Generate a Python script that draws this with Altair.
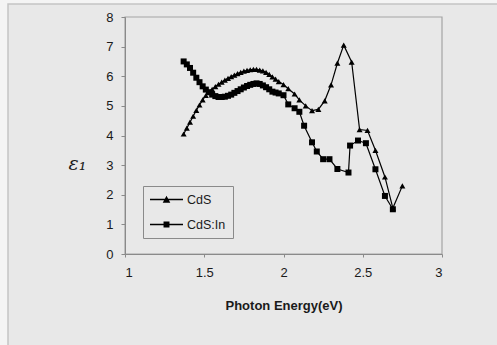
import altair as alt
import pandas as pd

# CdS (triangles)
cds_e = [1.37, 1.39, 1.41, 1.43, 1.45, 1.47, 1.49, 1.51, 1.53, 1.55, 1.57, 1.59, 1.61,
         1.63, 1.65, 1.67, 1.69, 1.71, 1.73, 1.75, 1.77, 1.79, 1.81, 1.83, 1.85, 1.87,
         1.89, 1.91, 1.93, 1.95, 1.97, 2.00, 2.03, 2.07, 2.10, 2.14, 2.18, 2.22, 2.26,
         2.30, 2.34, 2.38, 2.43, 2.48, 2.53, 2.58, 2.64, 2.69, 2.75]
cds_v = [4.05, 4.25, 4.45, 4.65, 4.85, 5.03, 5.20, 5.35, 5.47, 5.56, 5.65, 5.73, 5.80,
         5.87, 5.93, 5.99, 6.04, 6.09, 6.13, 6.17, 6.20, 6.22, 6.23, 6.23, 6.21, 6.18,
         6.13, 6.06, 5.98, 5.90, 5.82, 5.72, 5.58, 5.40, 5.20, 5.00, 4.84, 4.88, 5.17,
         5.71, 6.44, 7.05, 6.48, 4.20, 4.17, 3.50, 2.60, 1.55, 2.30]

# CdS:In (squares)
cdsin_e = [1.37, 1.39, 1.41, 1.43, 1.45, 1.47, 1.49, 1.51, 1.53, 1.55, 1.57, 1.59, 1.61,
           1.63, 1.65, 1.67, 1.69, 1.71, 1.73, 1.75, 1.77, 1.79, 1.81, 1.83, 1.85, 1.87,
           1.89, 1.91, 1.93, 1.95, 1.97, 2.00, 2.03, 2.07, 2.10, 2.13, 2.18, 2.21, 2.25,
           2.29, 2.34, 2.41, 2.42, 2.47, 2.52, 2.58, 2.64, 2.69]
cdsin_v = [6.50, 6.40, 6.28, 6.12, 5.95, 5.80, 5.66, 5.55, 5.46, 5.38, 5.33, 5.30, 5.30,
           5.31, 5.34, 5.38, 5.44, 5.50, 5.56, 5.62, 5.67, 5.71, 5.74, 5.76, 5.74, 5.69,
           5.63, 5.56, 5.48, 5.45, 5.42, 5.36, 5.05, 4.92, 4.80, 4.33, 3.77, 3.46, 3.20,
           3.20, 2.87, 2.75, 3.66, 3.83, 3.74, 2.86, 1.96, 1.51]

series_names = ["CdS", "CdS:In"]
x_ticks = [1, 1.5, 2, 2.5, 3]
y_ticks = [0, 1, 2, 3, 4, 5, 6, 7, 8]

df = pd.concat([
    pd.DataFrame({"E": cds_e, "eps": cds_v, "series": series_names[0]}),
    pd.DataFrame({"E": cdsin_e, "eps": cdsin_v, "series": series_names[1]}),
])

FONT = "Liberation Sans"
BG = "#e8e8e8"
W, H = 317, 237

x_enc = alt.X("E:Q", scale=alt.Scale(domain=[1, 3], nice=False),
              axis=alt.Axis(values=x_ticks, format="", title="Photon Energy(eV)",
                            grid=False, tickSize=3, labelPadding=9, zindex=2,
                            labelOverlap=False,
                            labelFontSize=13, labelFont=FONT, labelColor="#1a1a1a",
                            titleFont=FONT, titleFontSize=13, titleFontWeight="bold",
                            titleColor="#1a1a1a", titleBaseline="middle", titleY=51,
                            domainColor="#8a8a8a", tickColor="#8a8a8a"))
y_enc = alt.Y("eps:Q", scale=alt.Scale(domain=[0, 8], nice=False),
              axis=alt.Axis(values=y_ticks, title="ε₁", grid=False, tickSize=4,
                            labelPadding=8, labelFontSize=13, labelFont=FONT, zindex=2,
                            labelOverlap=False,
                            labelColor="#1a1a1a", titleAngle=0, titleFont="DejaVu Serif",
                            titleFontStyle="italic", titleFontWeight="normal",
                            titleFontSize=19, titleColor="#1a1a1a", titleAlign="center",
                            titleBaseline="middle", titleX=-48, titleY=146,
                            domainColor="#8a8a8a", tickColor="#8a8a8a"))

one = pd.DataFrame({"a": [0]})
bg = alt.Chart(one).mark_rect(
    fill=BG, stroke="#c4c4c4", strokeWidth=1.5
).encode(x=alt.value(-117), x2=alt.value(420), y=alt.value(-13), y2=alt.value(380))

frame = alt.Chart(one).mark_rect(
    fill=None, fillOpacity=0, stroke="#a4a4a4", strokeWidth=1.2
).encode(x=alt.value(0), x2=alt.value(W), y=alt.value(0), y2=alt.value(H))

lines = alt.Chart(df).mark_line(color="black", strokeWidth=1.2).encode(
    x=x_enc, y=y_enc, detail="series:N"
)

points = alt.Chart(df).mark_point(filled=True, color="black", opacity=1, size=36).encode(
    x=x_enc, y=y_enc,
    shape=alt.Shape("series:N",
                    scale=alt.Scale(domain=series_names, range=["triangle-up", "square"]),
                    legend=None),
)

# legend-only layer: symbols are a short (filled) line with a solid marker on it
bar = "M-1,-0.038L1,-0.038L1,0.038L-1,0.038Z"
tri_path = bar + "M-0.23,0.2L0,-0.22L0.23,0.2Z"
sq_path = bar + "M-0.18,-0.18L0.18,-0.18L0.18,0.18L-0.18,0.18Z"
legend_layer = alt.Chart(df).mark_point(
    filled=True, color="black", size=0, opacity=1
).encode(
    x=x_enc, y=y_enc,
    shape=alt.Shape("series:N",
                    scale=alt.Scale(domain=series_names, range=[tri_path, sq_path]),
                    legend=alt.Legend(
                        title=None, orient="none", legendX=18, legendY=169,
                        strokeColor="#8a8a8a", fillColor=BG, padding=7,
                        rowPadding=12, clipHeight=13, symbolSize=1089,
                        symbolFillColor="black", symbolOpacity=1,
                        symbolStrokeWidth=0,
                        labelOffset=4, labelFont=FONT, labelFontSize=12.5,
                        labelColor="#1a1a1a")),
)

chart = alt.layer(bg, frame, lines, points, legend_layer).resolve_scale(
    shape="independent"
).properties(
    width=W, height=H,
    autosize=alt.AutoSizeParams(type="none"),
    padding={"left": 125, "top": 17, "right": 55, "bottom": 91},
    background="#f4f4f4",
).configure_view(stroke=None, fill=None)

chart.save("out.html", embed_options={"renderer": "svg", "actions": False})
